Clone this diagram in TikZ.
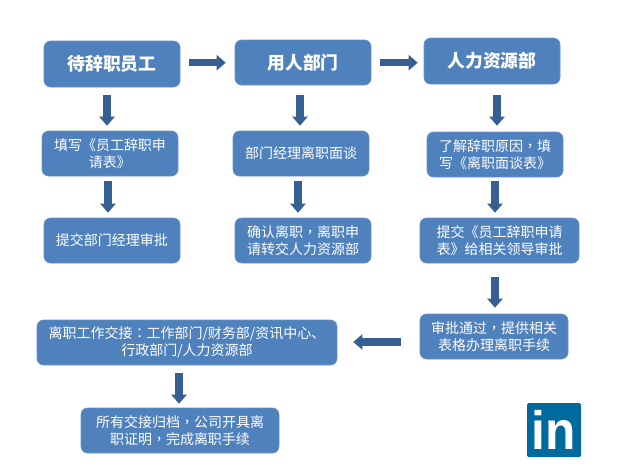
\documentclass[tikz,border=0pt]{standalone}
\usepackage{fontspec}
\usepackage{graphicx}
\setmainfont{Noto Sans CJK SC}
\newfontfamily\logofont{Liberation Sans}
\newfontfamily\punctfont{Noto Sans CJK TC}
\newcommand{\cpu}[1]{{\punctfont #1}}
\usetikzlibrary{arrows.meta}
\definecolor{boxblue}{HTML}{4F81BD}
\definecolor{arrowblue}{HTML}{376092}
\definecolor{logoblue}{HTML}{006A9E}
\tikzset{
  x=1pt,y=-1pt,
  flowbox/.style={fill=boxblue,draw=boxblue!85!white,line width=0.6pt,rounded corners=6.5pt,inner sep=0pt,align=center,text=white,font=\fontsize{14}{17.3}\selectfont},
  headbox/.style={flowbox,font=\fontsize{17.8}{20}\selectfont\bfseries},
  blockarrow/.style={draw=arrowblue,line width=7.5pt,-{Triangle[width=15pt,length=9pt]}},
}
\newcommand{\bx}[7][flowbox]{\node[#1,minimum width=#4pt-#2pt,minimum height=#5pt-#3pt] (#6) at ({(#2+#4)/2},{(#3+#5)/2}) {#7};}
\begin{document}
\begin{tikzpicture}
\useasboundingbox (0,0) rectangle (622,467);
\fill[white] (0,0) rectangle (622,467);
\bx[headbox]{44}{41}{180}{87}{a1}{待辞职员工}
\bx[headbox]{235}{40}{371}{85}{a2}{用人部门}
\bx[headbox]{424}{38}{560}{84}{a3}{人力资源部}
\bx{42}{131}{178}{176}{b1}{填写《员工辞职申\\请表》}
\bx{233}{131}{369}{176}{b2}{部门经理离职面谈}
\bx{427}{132}{563}{177}{b3}{了解辞职原因\cpu{，}填\\写《离职面谈表》}
\bx{44}{218}{180}{263}{c1}{提交部门经理审批}
\bx{235}{218}{371}{263}{c2}{确认离职\cpu{，}离职申\\请转交人力资源部}
\bx{420}{218}{579}{263}{c3}{提交《员工辞职申请\\表》给相关领导审批}
\bx{420}{314}{568}{359}{d1}{审批通过\cpu{，}提供相关\\表格办理离职手续}
\bx{37}{320}{337}{365}{d2}{离职工作交接\cpu{：}工作部门/财务部/资讯中心、\\行政部门/人力资源部}
\bx{81}{408}{279}{453}{e1}{所有交接归档\cpu{，}公司开具离\\职证明\cpu{，}完成离职手续}
% connectors
\draw[blockarrow] ([xshift=9pt,yshift=1.3pt]a1.east) -- ([xshift=-9pt,yshift=-0.2pt]a2.west);
\draw[blockarrow] ([xshift=9pt,yshift=-0.2pt]a2.east) -- ([xshift=-6pt,yshift=-1.7pt]a3.west);
\draw[blockarrow] ([xshift=-5pt,yshift=-8pt]a1.south) -- ([xshift=-3pt,yshift=5pt]b1.north);
\draw[blockarrow] ([xshift=-3pt,yshift=-10pt]a2.south) -- ([xshift=-1pt,yshift=5pt]b2.north);
\draw[blockarrow] ([xshift=5pt,yshift=-11pt]a3.south) -- ([xshift=2pt,yshift=6pt]b3.north);
\draw[blockarrow] ([xshift=-2pt,yshift=-5pt]b1.south) -- ([xshift=-4pt,yshift=5pt]c1.north);
\draw[blockarrow] ([xshift=-3pt,yshift=-5pt]b2.south) -- ([xshift=-5pt,yshift=5pt]c2.north);
\draw[blockarrow] ([yshift=-4pt]b3.south) -- ([xshift=-4.5pt,yshift=5pt]c3.north);
\draw[blockarrow] ([xshift=-4.5pt,yshift=-14pt]c3.south) -- ([xshift=1pt,yshift=6pt]d1.north);
\draw[blockarrow] ([xshift=-19pt,yshift=-5.5pt]d1.west) -- ([xshift=16pt,yshift=0.5pt]d2.east);
\draw[blockarrow] ([xshift=-8pt,yshift=-8pt]d2.south) -- ([xshift=-1pt,yshift=4pt]e1.north);
% logo
\node[fill=logoblue,rounded corners=1.5pt,minimum width=54pt,minimum height=54pt,inner sep=0pt,text=white,font=\logofont\fontsize{54}{54}\selectfont\bfseries] (logo) at (554,430) {\raisebox{-3pt}{\scalebox{0.92}[1]{in}}};
\end{tikzpicture}
\end{document}
